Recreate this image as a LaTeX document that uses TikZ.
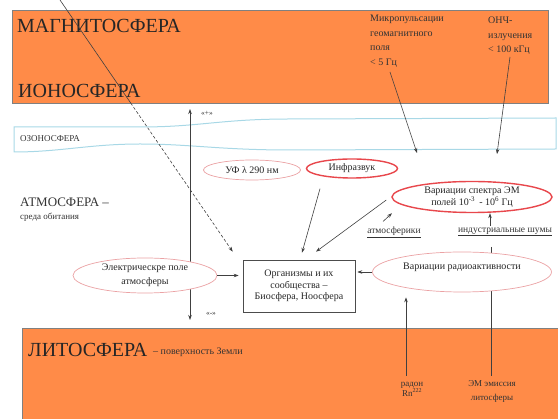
\documentclass[tikz,border=0pt]{standalone}
\usepackage{fontspec}
\setmainfont{Liberation Serif}
\usetikzlibrary{shapes.geometric,arrows.meta}
\definecolor{sphereorange}{HTML}{FF8B48}
\definecolor{ozoneblue}{HTML}{A8D8E6}
\definecolor{ovalred}{HTML}{E8474C}
\definecolor{ovalpink}{HTML}{EBA2A4}

\begin{document}
\begin{tikzpicture}[x=1pt,y=-1pt,font=\fontsize{10}{12}\selectfont,
    >={Stealth[length=5pt,width=3.5pt]},
    sphere/.style={draw=black!50,fill=sphereorange,inner sep=0pt,anchor=north west},
    big/.style={anchor=west,inner sep=0pt,text=black!85,font=\fontsize{20}{22}\selectfont},
    small/.style={align=left,anchor=north west,inner sep=0pt,text=black!80,
                  font=\fontsize{10}{14.5}\selectfont},
    lbl/.style={inner sep=0pt,text=black!80,font=\fontsize{9}{10}\selectfont},
    ov/.style={ellipse,draw=ovalpink,line width=0.7pt,fill=white,inner sep=0pt,
               align=center,text=black!85},
    ovhi/.style={ov,draw=ovalred,line width=1.4pt},
    lnk/.style={->,black!75,line width=0.6pt},
    wire/.style={black!75,line width=0.6pt}]

  \useasboundingbox (0,0) rectangle (558,419);

  % spheres
  \node[sphere,minimum width=536pt,minimum height=93pt] (magbox) at (12,10) {};
  \node[sphere,minimum width=540pt,minimum height=95pt] (litbox) at (22,328) {};
  \node[big] (magn) at (17,25.5) {МАГНИТОСФЕРА};
  \node[big] (iono) at (18,90.5) {ИОНОСФЕРА};
  \node[big] (lito) at (28,350) {ЛИТОСФЕРА};
  \node[lbl,anchor=west,font=\fontsize{10}{11}\selectfont] (surf) at (153,352) {– поверхность Земли};
  \node[small] (pulse) at (370,15) {Микропульсации\\геомагнитного\\поля\\< 5 Гц};
  \node[small] (vlf) at (488,17) {ОНЧ-\\излучения\\< 100 кГц};

  % ozone layer
  \draw[ozoneblue,line width=1pt] (14,127) -- (140,127)
    .. controls (200,127) and (220,119) .. (290,119) -- (556,118) -- (556,149) -- (290,150)
    .. controls (220,150) and (190,144) .. (140,144)
    .. controls (90,144) and (60,152) .. (14,152) -- cycle;
  \node[lbl,anchor=west] (ozon) at (20,139) {ОЗОНОСФЕРА};

  \node[lbl,anchor=base west,font=\fontsize{13}{14}\selectfont] (atm) at (20,207) {АТМОСФЕРА –};
  \node[lbl,anchor=base west] (habit) at (20,220) {среда обитания};

  % lines that run behind the ovals
  \coordinate (plustip) at (190,109);
  \coordinate (minustip) at (190,320);
  \draw[lnk,<->] (minustip) -- (plustip);
  \node[lbl,font=\fontsize{7.5}{8}\selectfont] (plus) at (207,113) {«+»};
  \node[lbl,font=\fontsize{7.5}{8}\selectfont] (minus) at (211,314) {«-»};
  \coordinate (noisefoot) at (491,247);
  \coordinate (emisfoot) at (491,376);
  \draw[wire] (noisefoot) -- (emisfoot);

  % ovals and the box
  \node[ov,minimum width=97pt,minimum height=20pt] (uv) at (252,170) {УФ λ 290 нм};
  \node[ovhi,minimum width=91pt,minimum height=19pt] (infra) at (352,168.5) {Инфразвук};
  \node[ovhi,minimum width=160pt,minimum height=31pt,inner ysep=-4pt,
        font=\fontsize{10}{12}\selectfont] (em) at (472,197)
    {Вариации спектра ЭМ\\полей 10\textsuperscript{-3}\, - 10\textsuperscript{6} Гц};
  \node[ov,minimum width=144pt,minimum height=35pt,font=\fontsize{10}{14}\selectfont] (el) at (145,275.5)
    {Электрическре поле\\атмосферы};
  \node[ov,minimum width=179pt,minimum height=40pt] (radio) at (462,272)
    {\raisebox{2pt}[0pt][0pt]{Вариации радиоактивности}};
  \node[draw=black!70,line width=0.6pt,minimum width=112pt,minimum height=52pt,align=center,
        inner sep=0pt,text=black!85,font=\fontsize{10}{11.5}\selectfont] (org) at (299,286)
    {Организмы и их\\сообщества –\\Биосфера, Ноосфера};

  \node[lbl,font=\fontsize{9.5}{11}\selectfont] (atmo) at (394,232) {\underline{атмосферики}};
  \node[lbl,font=\fontsize{9.5}{11}\selectfont] (noise) at (505,232) {\underline{индустриальные шумы}};
  \node[lbl,align=center,font=\fontsize{9}{10}\selectfont] (radon) at (412,389) {радон\\Rn\textsuperscript{222}};
  \node[lbl,align=center,font=\fontsize{9}{14}\selectfont] (emis) at (492,391) {ЭМ эмиссия\\литосферы};

  % connectors
  \coordinate (mgtop) at (60,0);
  \coordinate (mgmid) at (130.7,103);
  \draw[wire] (mgtop) -- (mgmid);
  \draw[lnk,dashed,dash pattern=on 3pt off 2pt] (mgmid) -- ([xshift=-10pt,yshift=8pt]org.north west);
  \coordinate (pulsefoot) at (390,72);
  \coordinate (pulsetip) at (417,153);
  \draw[lnk] (pulsefoot) -- (pulsetip);
  \coordinate (vlffoot) at (510,57);
  \coordinate (vlftip) at (497,154);
  \draw[lnk] (vlffoot) -- (vlftip);
  \draw[lnk] ([xshift=-32pt,yshift=-10pt]infra.south) -- ([xshift=3pt,yshift=7pt]org.north);
  \draw[lnk] ([xshift=-5pt,yshift=-3pt]em.west) -- ([xshift=17pt,yshift=8pt]org.north);
  \draw[lnk] ([xshift=-11pt,yshift=5pt]atmo.north) -- ([xshift=-80pt]em.south);
  \draw[lnk] ([xshift=-15pt,yshift=2pt]noise.north) -- ([xshift=-15pt]noise.north |- em.south);
  \draw[lnk,shorten >=4pt] (el.east) -- (el.east -| org.west);
  \draw[lnk,shorten >=2pt] (radio.west) -- (radio.west -| org.east);
  \coordinate (radonfoot) at (406,376);
  \draw[lnk,shorten >=5pt] (radonfoot) -- (radonfoot |- radio.south);
\end{tikzpicture}
\end{document}
